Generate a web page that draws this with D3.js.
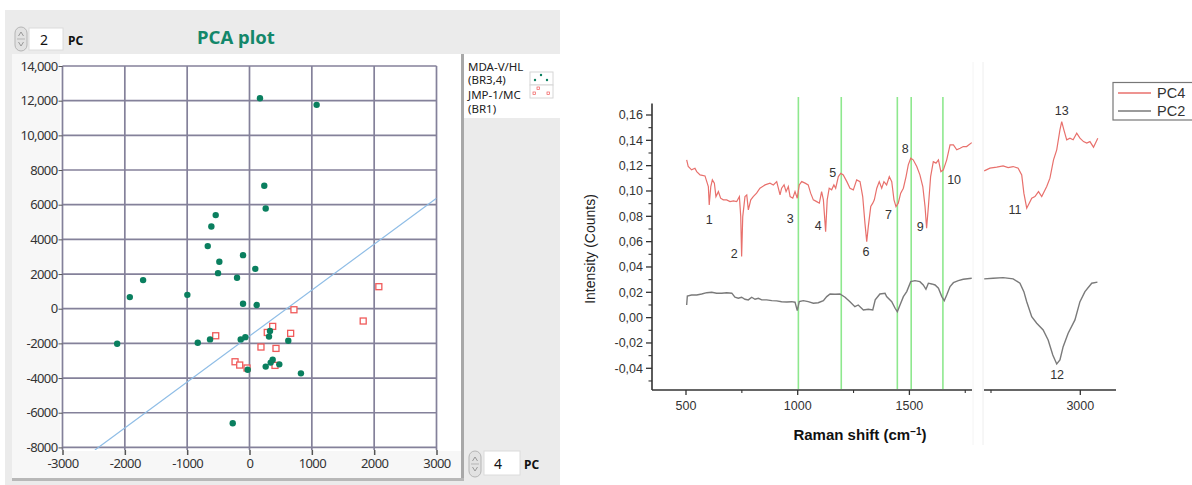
<!DOCTYPE html>
<html><head><meta charset="utf-8">
<script src="https://cdn.jsdelivr.net/npm/d3@7"></script>
<style>body{margin:0;background:#fff}svg{display:block}</style>
</head><body><svg id="c" width="1192" height="485"></svg>
<script>
// ---------- PCA scatter data ----------
const mdaX = [168,1077,237,260,-542,-612,-670,-104,-484,93,-505,-200,-1707,-1920,-997,-104,115,-830,-633,-141,-67,329,313,622,372,340,478,260,-29,825,-269,-2123];
const mdaY = [12140,11760,7090,5780,5400,4740,3610,3090,2710,2300,2050,1790,1650,670,800,290,210,-1960,-1770,-1770,-1640,-1290,-1610,-1850,-2940,-3110,-3210,-3340,-3520,-3730,-6610,-2020];
const jmpX = [713,372,285,660,-542,184,425,-232,-157,409,-40,2075,1824];
const jmpY = [-60,-1020,-1370,-1420,-1560,-2210,-2290,-3060,-3250,-3270,-3420,1270,-710];
const sepLineX = [-2480, 3000];
const sepLineY = [-8150, 6370];
const pcaXTicks = [-3000,-2000,-1000,0,1000,2000,3000];
const pcaYTicks = [-8000,-6000,-4000,-2000,0,2000,4000,6000,8000,10000,12000,14000];
const legendNames = ["MDA-V/HL", "(BR3,4)", "JMP-1/MC", "(BR1)"];
const pcY = "2", pcX = "4";

// ---------- Loadings spectra ----------
const pc4Shift1 = [503,510,525,540,548,563,585,600,604,611,618,627,634,645,655,667,682,697,712,727,739,745,749,754,764,772,779,790,801,816,831,854,876,891,906,921,928,939,948,958,966,978,988,998,1007,1018,1033,1047,1058,1070,1085,1097,1107,1115,1125,1132,1141,1152,1162,1170,1182,1193,1204,1220,1234,1249,1264,1279,1291,1301,1309,1316,1327,1336,1343,1354,1365,1376,1386,1398,1410,1421,1431,1440,1450,1461,1473,1485,1495,1506,1517,1533,1547,1560,1570,1577,1585,1595,1607,1619,1630,1641,1652,1667,1682,1697,1712,1727,1741,1756,1779];
const pc4Int1 = [0.1246,0.1193,0.1167,0.118,0.1153,0.1127,0.1119,0.1035,0.089,0.1035,0.1088,0.1062,0.0956,0.0995,0.0943,0.093,0.093,0.0916,0.0922,0.0916,0.0956,0.0798,0.0482,0.0798,0.0956,0.0969,0.0851,0.093,0.0956,0.0983,0.1022,0.1048,0.1062,0.1048,0.1074,0.0969,0.1022,0.1048,0.0995,0.1035,0.0956,0.0943,0.0995,0.0943,0.1048,0.1074,0.1062,0.1048,0.0983,0.093,0.0916,0.0904,0.0995,0.093,0.0679,0.093,0.1022,0.1009,0.1048,0.1022,0.1114,0.114,0.1127,0.1074,0.1022,0.1009,0.1088,0.1074,0.0956,0.0746,0.06,0.0719,0.0877,0.0904,0.093,0.1022,0.1074,0.1022,0.1074,0.1048,0.1114,0.1074,0.093,0.0877,0.0904,0.0983,0.1022,0.1114,0.1206,0.1259,0.1246,0.1193,0.1127,0.1035,0.0877,0.0706,0.0877,0.1114,0.1232,0.122,0.1246,0.1153,0.1167,0.1246,0.1364,0.1364,0.1325,0.1338,0.1351,0.1351,0.1382];
const pc4Shift2 = [2731,2747,2766,2784,2798,2812,2826,2836,2842,2850,2857,2864,2873,2883,2892,2906,2915,2925,2934,2943,2948,2954,2962,2971,2980,2990,2999,3009,3018,3027,3037,3049];
const pc4Int2 = [0.1159,0.118,0.1188,0.1198,0.1185,0.1193,0.118,0.1127,0.0983,0.0864,0.0904,0.0943,0.0956,0.0995,0.0956,0.1035,0.1101,0.1246,0.1325,0.1483,0.1548,0.1483,0.1404,0.1417,0.1404,0.1456,0.1417,0.139,0.1378,0.139,0.1346,0.1417];
const pc2Shift1 = [503,506,525,548,570,593,615,637,660,682,705,719,734,749,764,779,794,809,824,839,861,884,906,928,951,973,988,998,1007,1025,1047,1070,1092,1115,1130,1145,1167,1189,1212,1234,1256,1271,1294,1316,1336,1347,1368,1391,1398,1421,1436,1446,1458,1473,1488,1506,1525,1547,1562,1574,1585,1600,1615,1630,1645,1656,1667,1682,1697,1719,1741,1779];
const pc2Int1 = [0.01,0.0171,0.0179,0.0179,0.0187,0.0197,0.02,0.0193,0.0193,0.0197,0.0193,0.0161,0.0153,0.0161,0.0145,0.014,0.0161,0.0145,0.0153,0.014,0.014,0.0134,0.0132,0.0126,0.0124,0.0126,0.0122,0.0055,0.0126,0.0134,0.0126,0.0114,0.0118,0.0134,0.0166,0.0187,0.0185,0.0187,0.0161,0.0126,0.0087,0.01,0.0061,0.0066,0.0061,0.014,0.0187,0.0193,0.0166,0.0126,0.0074,0.0047,0.01,0.0166,0.0206,0.0284,0.0292,0.0284,0.0258,0.0224,0.0272,0.0266,0.0258,0.0232,0.0166,0.0134,0.0179,0.0245,0.0276,0.0292,0.0303,0.0311];
const pc2Shift2 = [2731,2756,2784,2812,2831,2842,2850,2864,2878,2896,2910,2923,2934,2943,2952,2966,2985,2999,3013,3032,3048];
const pc2Int2 = [0.0306,0.0311,0.0316,0.0306,0.0272,0.0205,0.0126,0.0008,-0.0044,-0.0097,-0.0176,-0.0295,-0.0366,-0.0334,-0.0229,-0.0123,-0.0018,0.0126,0.0205,0.0272,0.028];
const markerShifts = [1003,1195,1446,1508,1650];
const bandNums = ["1","2","3","4","5","6","7","8","9","10","11","12","13"];
const bandShift = [604,716,966,1092,1157,1306,1406,1481,1548,1700,2817,2935,2948];
const bandInt = [0.0771,0.0503,0.0785,0.0724,0.1148,0.0521,0.0817,0.1338,0.0719,0.1088,0.0851,-0.0447,0.1633];
const specYTicks = [-0.04,-0.02,0,0.02,0.04,0.06,0.08,0.10,0.12,0.14,0.16];
const specXTicks1 = [500,1000,1500];
const specXTicks2 = [3000];
const seriesNames = ["PC4","PC2"];

// ================= drawing =================
const svg = d3.select("#c");
const UI = "'Noto Sans', 'Open Sans', sans-serif";
const AR = "'Liberation Sans', Arial, sans-serif";

// ---- left panel (LabVIEW-like) ----
const L = svg.append("g");
L.append("rect").attr("x",5).attr("y",10).attr("width",555).attr("height",475).attr("fill","#ebebeb");
L.append("rect").attr("x",12).attr("y",54).attr("width",450).attr("height",424).attr("fill","#fff");
L.append("rect").attr("x",12).attr("y",451).attr("width",450).attr("height",27).attr("fill","#f7f7f7");
L.append("rect").attr("x",12).attr("y",54).attr("width",48).attr("height",424).attr("fill","#f7f7f7");
L.append("rect").attr("x",461).attr("y",54).attr("width",3).attr("height",427).attr("fill","#a8a8a8");
L.append("rect").attr("x",12).attr("y",478).attr("width",452).attr("height",3).attr("fill","#b8b8b8");
L.append("rect").attr("x",464).attr("y",54).attr("width",96).attr("height",64).attr("fill","#fff");

function spinner(x,y,h){
  const g=L.append("g");
  g.append("rect").attr("x",x).attr("y",y).attr("width",12).attr("height",h).attr("rx",6).attr("fill","#e2e2e2").attr("stroke","#b5b5b5");
  g.append("line").attr("x1",x+2).attr("x2",x+10).attr("y1",y+h/2).attr("y2",y+h/2).attr("stroke","#b5b5b5");
  g.append("path").attr("d",`M${x+3.5},${y+h/2-3}L${x+6},${y+h/2-7}L${x+8.5},${y+h/2-3}`).attr("fill","none").attr("stroke","#999");
  g.append("path").attr("d",`M${x+3.5},${y+h/2+3}L${x+6},${y+h/2+7}L${x+8.5},${y+h/2+3}`).attr("fill","none").attr("stroke","#999");
}
spinner(15,27,24);
L.append("rect").attr("x",29).attr("y",28).attr("width",34).attr("height",22).attr("fill","#fff").attr("stroke","#dcdcdc");
L.append("text").attr("x",44).attr("y",45).attr("text-anchor","middle").attr("font-family",UI).attr("font-size",14).attr("fill","#111").text(pcY);
L.append("text").attr("x",68).attr("y",45).attr("font-family",UI).attr("font-weight","bold").attr("font-size",12).attr("fill","#111").text("PC");
L.append("text").attr("x",236).attr("y",44).attr("text-anchor","middle").attr("font-family",UI).attr("font-weight","bold").attr("font-size",18.5).attr("fill","#13876a").text("PCA plot");

spinner(469,451,26);
L.append("rect").attr("x",484).attr("y",451).attr("width",36).attr("height",24).attr("fill","#fff").attr("stroke","#dcdcdc");
L.append("text").attr("x",498).attr("y",469).attr("text-anchor","middle").attr("font-family",UI).attr("font-size",14).attr("fill","#111").text(pcX);
L.append("text").attr("x",524).attr("y",469).attr("font-family",UI).attr("font-weight","bold").attr("font-size",12).attr("fill","#111").text("PC");

const px = d3.scaleLinear().domain([-3000,3000]).range([62.5,436.5]);
const py = d3.scaleLinear().domain([-8150,14000]).range([450,66]);
const gridC = "#84819a";
const grid = L.append("g");
pcaXTicks.forEach(t=>grid.append("line").attr("x1",px(t)).attr("x2",px(t)).attr("y1",py(14000)).attr("y2",py(-8150)).attr("stroke",gridC).attr("stroke-width",1.7));
pcaYTicks.forEach(t=>grid.append("line").attr("x1",px(-3000)).attr("x2",px(3000)).attr("y1",py(t)).attr("y2",py(t)).attr("stroke",gridC).attr("stroke-width",1.7));

const fmtY = v => Math.abs(v)>=10000 ? d3.format(",")(v) : String(v).replace("−","-");
const yAx = L.append("g").attr("transform",`translate(${px(-3000)},0)`)
  .call(d3.axisLeft(py).tickValues(pcaYTicks).tickFormat(fmtY).tickSize(4).tickPadding(1));
yAx.select(".domain").remove();
yAx.selectAll("line").attr("stroke","#555");
yAx.selectAll("text").attr("font-family",UI).attr("font-size",13).attr("fill","#333").attr("letter-spacing","-0.6");
const xAx = L.append("g").attr("transform",`translate(0,${py(-8150)})`)
  .call(d3.axisBottom(px).tickValues(pcaXTicks).tickFormat(v=>String(v)).tickSize(5).tickPadding(4));
xAx.select(".domain").remove();
xAx.selectAll("line").attr("stroke","#555").attr("stroke-width",1.5);
xAx.selectAll("text").attr("font-family",UI).attr("font-size",13).attr("fill","#333").attr("letter-spacing","-0.6");

L.append("defs").append("clipPath").attr("id","pclip").append("rect")
  .attr("x",px(-3000)).attr("y",py(14000)).attr("width",px(3000)-px(-3000)).attr("height",py(-8150)-py(14000));
L.append("line").attr("clip-path","url(#pclip)")
  .attr("x1",px(sepLineX[0])).attr("y1",py(sepLineY[0])).attr("x2",px(sepLineX[1])).attr("y2",py(sepLineY[1]))
  .attr("stroke","#8fbde6").attr("stroke-width",1.2);

const jmp = jmpX.map((x,i)=>[x,jmpY[i]]);
const mda = mdaX.map((x,i)=>[x,mdaY[i]]);
L.append("g").selectAll("rect").data(jmp).join("rect")
  .attr("x",d=>px(d[0])-3).attr("y",d=>py(d[1])-3).attr("width",6).attr("height",6)
  .attr("fill","#fff").attr("stroke","#f05a5a").attr("stroke-width",1.3);
L.append("g").selectAll("circle").data(mda).join("circle")
  .attr("cx",d=>px(d[0])).attr("cy",d=>py(d[1])).attr("r",3.2).attr("fill","#0a7f5f");

// legend
const lg = L.append("g").attr("font-family",UI).attr("font-size",11.5).attr("fill","#222");
[[legendNames[0],71],[legendNames[1],84],[legendNames[2],98.5],[legendNames[3],113]].forEach(([t,y])=>
  lg.append("text").attr("x",468).attr("y",y).text(t));
lg.append("rect").attr("x",530).attr("y",72).attr("width",23).attr("height",13).attr("fill","#fff").attr("stroke","#d6d6d6");
lg.append("rect").attr("x",530).attr("y",85).attr("width",23).attr("height",13).attr("fill","#fff").attr("stroke","#d6d6d6");
[[541,75],[535,80],[547,80]].forEach(([x,y])=>lg.append("circle").attr("cx",x).attr("cy",y).attr("r",1.2).attr("fill","#0a7f5f"));
[[538,88],[534,93],[548,93]].forEach(([x,y])=>lg.append("rect").attr("x",x-1).attr("y",y-1).attr("width",2.5).attr("height",2.5).attr("fill","none").attr("stroke","#f05a5a").attr("stroke-width",0.7));

// ---- right panel (spectra) ----
const R = svg.append("g");
const xs1 = d3.scaleLinear().domain([500,1500]).range([686,909.4]);
const xs2 = d3.scaleLinear().domain([2750,3000]).range([991,1080.3]);
const ys = d3.scaleLinear().domain([-0.04,0.16]).range([368.3,115]);
const yTop = 0.169, yBot = -0.0571;

R.append("line").attr("x1",983).attr("x2",983).attr("y1",62).attr("y2",445).attr("stroke","#eeeeee");
R.append("line").attr("x1",973).attr("x2",973).attr("y1",62).attr("y2",445).attr("stroke","#f4f4f4");

markerShifts.forEach(s=>R.append("line").attr("x1",xs1(s)).attr("x2",xs1(s)).attr("y1",97).attr("y2",ys(yBot)-1)
  .attr("stroke","#8ee88e").attr("stroke-width",1.6));

const fmtS = v => { const s = Math.abs(v).toFixed(2).replace(".",","); return (v < -1e-9 ? "-" : "") + s; };
const yA = R.append("g").attr("transform",`translate(652,0)`);
yA.append("line").attr("x1",0).attr("x2",0).attr("y1",ys(yTop)).attr("y2",ys(yBot)).attr("stroke","#333").attr("stroke-width",1.6);
specYTicks.forEach(t=>{
  yA.append("line").attr("x1",-6).attr("x2",0).attr("y1",ys(t)).attr("y2",ys(t)).attr("stroke","#333").attr("stroke-width",1.3);
  yA.append("line").attr("x1",-3.5).attr("x2",0).attr("y1",ys(t-0.01)).attr("y2",ys(t-0.01)).attr("stroke","#333").attr("stroke-width",1.1);
  yA.append("text").attr("x",-9).attr("y",ys(t)+4.3).attr("text-anchor","end").attr("font-family",AR).attr("font-size",12.5).attr("fill","#333").text(fmtS(t));
});

const xA = R.append("g").attr("transform",`translate(0,${ys(yBot)})`);
xA.append("line").attr("x1",652).attr("x2",972).attr("y1",0).attr("y2",0).attr("stroke","#333").attr("stroke-width",1.6);
xA.append("line").attr("x1",984).attr("x2",1116).attr("y1",0).attr("y2",0).attr("stroke","#333").attr("stroke-width",1.6);
specXTicks1.forEach(t=>{
  xA.append("line").attr("x1",xs1(t)).attr("x2",xs1(t)).attr("y1",0).attr("y2",5).attr("stroke","#333").attr("stroke-width",1.3);
  xA.append("line").attr("x1",xs1(t+250)).attr("x2",xs1(t+250)).attr("y1",0).attr("y2",3).attr("stroke","#333").attr("stroke-width",1.1);
  xA.append("text").attr("x",xs1(t)).attr("y",20).attr("text-anchor","middle").attr("font-family",AR).attr("font-size",12.5).attr("fill","#333").text(String(t));
});
specXTicks2.forEach(t=>{
  xA.append("line").attr("x1",xs2(t)).attr("x2",xs2(t)).attr("y1",0).attr("y2",5).attr("stroke","#333").attr("stroke-width",1.3);
  xA.append("line").attr("x1",xs2(t-250)).attr("x2",xs2(t-250)).attr("y1",0).attr("y2",3).attr("stroke","#333").attr("stroke-width",1.1);
  xA.append("text").attr("x",xs2(t)).attr("y",20).attr("text-anchor","middle").attr("font-family",AR).attr("font-size",12.5).attr("fill","#333").text(String(t));
});
R.append("text").attr("transform","translate(595,249) rotate(-90)").attr("text-anchor","middle")
  .attr("font-family",AR).attr("font-size",14).attr("fill","#222").text("Intensity (Counts)");
const xt = R.append("text").attr("x",860).attr("y",440).attr("text-anchor","middle")
  .attr("font-family",AR).attr("font-size",15).attr("font-weight","bold").attr("fill","#111");
xt.append("tspan").text("Raman shift (cm");
xt.append("tspan").attr("dy",-5).attr("font-size",10).text("−1");
xt.append("tspan").attr("dy",5).text(")");

const ln1 = d3.line().x(d=>xs1(d[0])).y(d=>ys(d[1]));
const ln2 = d3.line().x(d=>xs2(d[0])).y(d=>ys(d[1]));
const redC = "#e8706c", greyC = "#7a7a7a";
R.append("path").attr("d",ln1(pc2Shift1.map((s,i)=>[s,pc2Int1[i]]))).attr("fill","none").attr("stroke",greyC).attr("stroke-width",1.4);
R.append("path").attr("d",ln2(pc2Shift2.map((s,i)=>[s,pc2Int2[i]]))).attr("fill","none").attr("stroke",greyC).attr("stroke-width",1.4);
R.append("path").attr("d",ln1(pc4Shift1.map((s,i)=>[s,pc4Int1[i]]))).attr("fill","none").attr("stroke",redC).attr("stroke-width",1.2);
R.append("path").attr("d",ln2(pc4Shift2.map((s,i)=>[s,pc4Int2[i]]))).attr("fill","none").attr("stroke",redC).attr("stroke-width",1.2);

bandNums.forEach((n,i)=>{
  const s = bandShift[i];
  const x = s > 2000 ? xs2(s) : xs1(s);
  R.append("text").attr("x",x).attr("y",ys(bandInt[i])+4.5).attr("text-anchor","middle")
    .attr("font-family",AR).attr("font-size",12.5).attr("fill","#333").text(n);
});

const sl = R.append("g");
sl.append("rect").attr("x",1113).attr("y",82.5).attr("width",80).attr("height",37.5).attr("fill","#fff").attr("stroke","#777").attr("stroke-width",1.2);
[[seriesNames[0],redC,93],[seriesNames[1],greyC,111]].forEach(([t,c,y])=>{
  sl.append("line").attr("x1",1118).attr("x2",1151).attr("y1",y).attr("y2",y).attr("stroke",c).attr("stroke-width",1.3);
  sl.append("text").attr("x",1157).attr("y",y+5).attr("font-family",AR).attr("font-size",14.5).attr("fill","#333").text(t);
});
</script></body></html>
